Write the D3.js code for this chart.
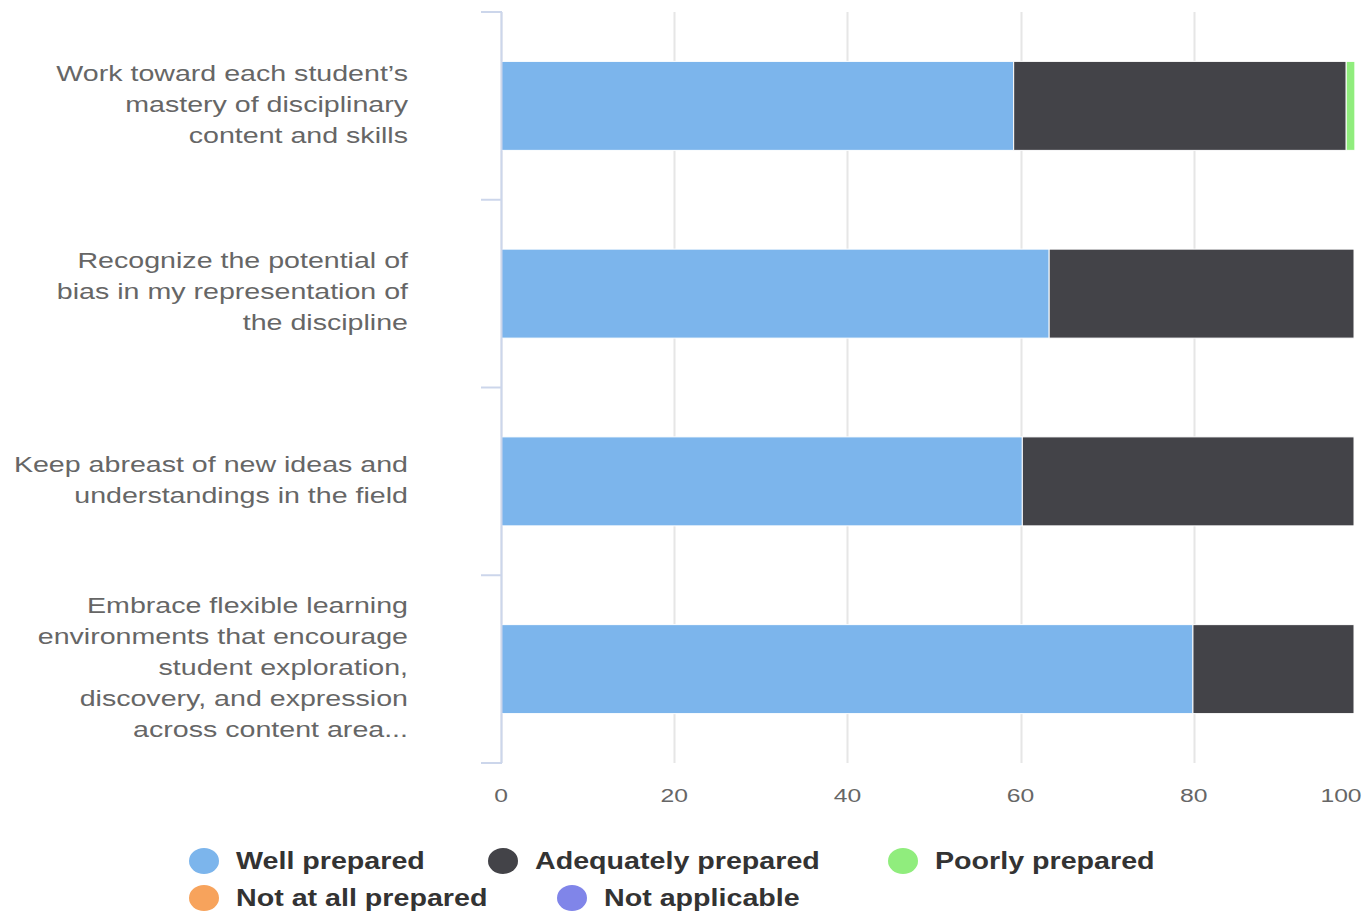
<!DOCTYPE html>
<html>
<head>
<meta charset="utf-8">
<script src="https://cdn.jsdelivr.net/npm/d3@7"></script>
<style>
  html, body { margin: 0; padding: 0; background: #ffffff; }
  svg { display: block; font-family: "Liberation Sans", Arial, sans-serif; }
</style>
</head>
<body>
<svg id="chart" width="1362" height="916"></svg>
<script>
// Survey items (each entry is the wrapped label lines)
const categories = [
  ["Work toward each student\u2019s", "mastery of disciplinary", "content and skills"],
  ["Recognize the potential of", "bias in my representation of", "the discipline"],
  ["Keep abreast of new ideas and", "understandings in the field"],
  ["Embrace flexible learning", "environments that encourage", "student exploration,", "discovery, and expression", "across content area..."]
];

// Response series (percent of respondents)
const seriesNames = ["Well prepared", "Adequately prepared", "Poorly prepared", "Not at all prepared", "Not applicable"];
const wellPrepared      = [59.2, 63.3, 60.2, 79.9];
const adequatelyPrep    = [38.4, 35.2, 38.3, 18.6];
const poorlyPrepared    = [1.0, 0, 0, 0];
const notAtAllPrepared  = [0, 0, 0, 0];
const notApplicable     = [0, 0, 0, 0];
const seriesColors = ["#7cb5ec", "#434348", "#90ed7d", "#f7a35c", "#8085e9"];

const xTicks = [0, 20, 40, 60, 80, 100];

const svg = d3.select("#chart");
const plot = { left: 501, right: 1367, top: 12, bottom: 763 };
const textStretch = 1.3; // horizontal stretch applied to all text

const x = d3.scaleLinear().domain([0, 100]).range([plot.left, plot.right]);
const y = d3.scaleBand().domain(d3.range(categories.length))
  .range([plot.top, plot.bottom]).paddingInner(0.526).paddingOuter(0.263);

// text helper: places a horizontally stretched text at (tx, ty)
function stretchedText(parent, tx, ty, sx) {
  return parent.append("g")
    .attr("transform", `translate(${tx},${ty}) scale(${sx},1)`)
    .append("text");
}

// vertical grid lines
svg.append("g").selectAll("line").data(xTicks).join("line")
  .attr("x1", d => Math.round(x(d)) + 0.5).attr("x2", d => Math.round(x(d)) + 0.5)
  .attr("y1", plot.top).attr("y2", plot.bottom)
  .attr("stroke", "#e6e6e6").attr("stroke-width", 2);

// stacked bars
const seriesValues = [wellPrepared, adequatelyPrep, poorlyPrepared, notAtAllPrepared, notApplicable];
const rows = categories.map((c, i) => {
  const r = { i };
  seriesNames.forEach((s, k) => { r[s] = seriesValues[k][i]; });
  return r;
});
const stack = d3.stack().keys(seriesNames)(rows);

svg.append("g").selectAll("g").data(stack).join("g")
  .attr("fill", (d, k) => seriesColors[k])
  .selectAll("rect").data(d => d.filter(p => p[1] - p[0] > 0)).join("rect")
  .attr("x", p => x(p[0]))
  .attr("width", p => x(p[1]) - x(p[0]))
  .attr("y", p => y(p.data.i))
  .attr("height", y.bandwidth())
  .attr("stroke", "#ffffff").attr("stroke-width", 1);

// category axis line and tick marks at band boundaries
const axisG = svg.append("g");
axisG.append("line")
  .attr("x1", plot.left + 0.5).attr("x2", plot.left + 0.5)
  .attr("y1", plot.top).attr("y2", plot.bottom)
  .attr("stroke", "#ccd6eb").attr("stroke-width", 2);
const step = (plot.bottom - plot.top) / categories.length;
axisG.selectAll("line.tick").data(d3.range(categories.length + 1)).join("line")
  .attr("class", "tick")
  .attr("x1", plot.left - 20).attr("x2", plot.left + 1)
  .attr("y1", d => plot.top + d * step).attr("y2", d => plot.top + d * step)
  .attr("stroke", "#ccd6eb").attr("stroke-width", 2);

// category labels
const lineH = 31;
const labels = svg.append("g").attr("fill", "#666666").attr("font-size", 22).attr("text-anchor", "end");
categories.forEach((lines, i) => {
  const cy = y(i) + y.bandwidth() / 2;
  const top = cy - (lines.length - 1) * lineH / 2 - 2;
  lines.forEach((ln, j) => {
    stretchedText(labels, 408, top + j * lineH, textStretch)
      .attr("dy", "0.35em").text(ln);
  });
});

// value axis tick labels (the last one is pulled left so it stays inside the edge)
const tickG = svg.append("g").attr("fill", "#666666").attr("font-size", 19).attr("text-anchor", "middle");
xTicks.forEach((d, i) => {
  const px = i === xTicks.length - 1 ? x(d) - 26 : x(d);
  stretchedText(tickG, px, 802, textStretch).text(d);
});

// legend
const legendItems = [
  { k: 0, cx: 204, cy: 861 }, { k: 1, cx: 503, cy: 861 }, { k: 2, cx: 903, cy: 861 },
  { k: 3, cx: 204, cy: 898 }, { k: 4, cx: 572, cy: 898 }
];
const lg = svg.append("g");
legendItems.forEach(it => {
  lg.append("ellipse").attr("cx", it.cx).attr("cy", it.cy).attr("rx", 15).attr("ry", 13)
    .attr("fill", seriesColors[it.k]);
  stretchedText(lg, it.cx + 32, it.cy, 1.245)
    .attr("dy", "0.35em")
    .attr("font-size", 23).attr("font-weight", "bold").attr("fill", "#333333")
    .text(seriesNames[it.k]);
});
</script>
</body>
</html>
